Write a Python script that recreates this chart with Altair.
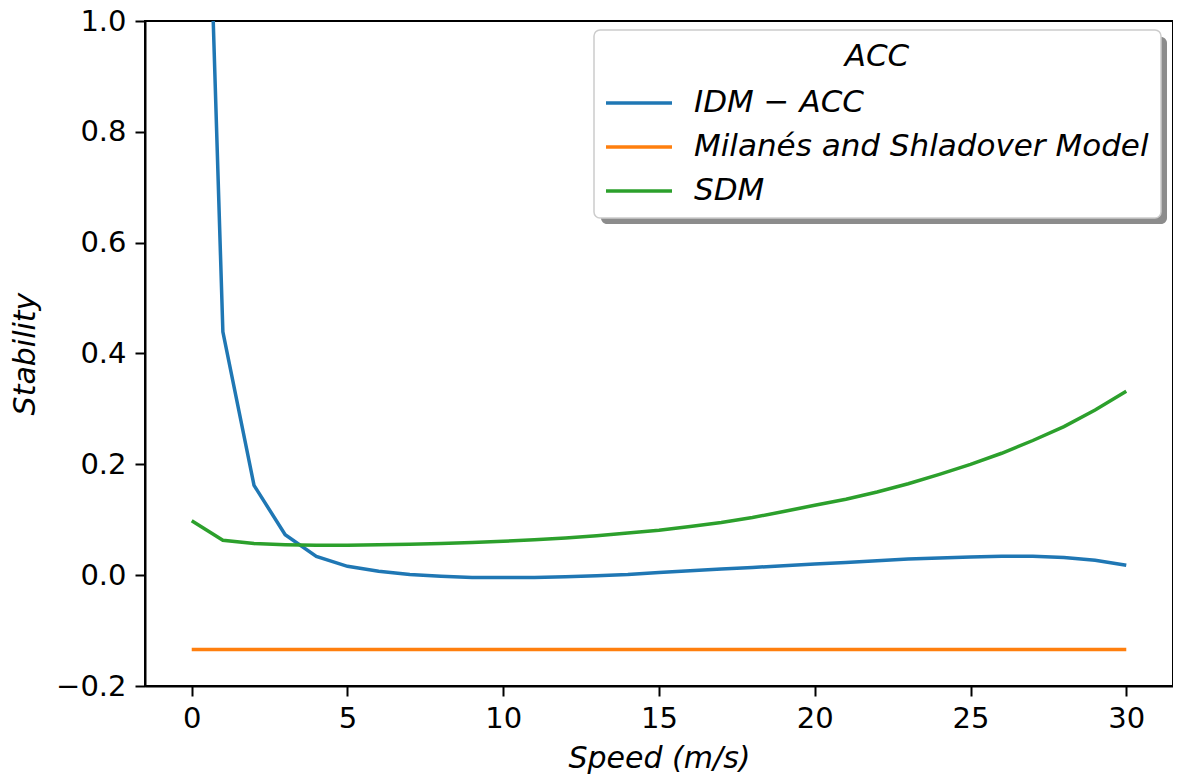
import altair as alt
import pandas as pd

speed = list(range(0, 31))
idm_acc = [2.25, 0.439, 0.162, 0.073, 0.034, 0.016, 0.007, 0.001, -0.002, -0.004,
           -0.004, -0.004, -0.003, -0.001, 0.001, 0.005, 0.008, 0.011, 0.014, 0.017,
           0.020, 0.023, 0.026, 0.029, 0.031, 0.033, 0.034, 0.034, 0.032, 0.027, 0.018]
milanes = [-0.134] * 31
sdm = [0.098, 0.063, 0.057, 0.055, 0.054, 0.054, 0.055, 0.056, 0.057, 0.059,
       0.061, 0.064, 0.067, 0.071, 0.076, 0.081, 0.088, 0.095, 0.104, 0.115,
       0.126, 0.137, 0.150, 0.165, 0.182, 0.200, 0.220, 0.243, 0.268, 0.298, 0.332]
models = ["IDM − ACC", "Milanés and Shladover Model", "SDM"]
colors = ["#1f77b4", "#ff7f0e", "#2ca02c"]
x_ticks = [0, 5, 10, 15, 20, 25, 30]
y_ticks = [-0.2, 0.0, 0.2, 0.4, 0.6, 0.8, 1.0]

rows = []
for name, vals in zip(models, [idm_acc, milanes, sdm]):
    for s, v in zip(speed, vals):
        rows.append({"speed": s, "value": v, "model": name})
df = pd.DataFrame(rows)

FONT = "DejaVu Sans"

lines = alt.Chart(df).mark_line(strokeWidth=3.5, clip=True).encode(
    x=alt.X("speed:Q",
            scale=alt.Scale(domain=[-1.5, 31.5], nice=False, zero=False),
            axis=alt.Axis(values=x_ticks, title="Speed (m/s)", format="d")),
    y=alt.Y("value:Q",
            scale=alt.Scale(domain=[-0.2, 1.0], nice=False, zero=False),
            axis=alt.Axis(values=y_ticks, title="Stability",
                          labelExpr="replace(format(datum.value, '.1f'), '-', '−')")),
    color=alt.Color("model:N",
                    scale=alt.Scale(domain=models, range=colors),
                    sort=models,
                    legend=alt.Legend(
                        title="ACC", orient="none", legendX=449, legendY=9,
                        symbolType="M-2.2,0H2.2", symbolSize=900, symbolStrokeWidth=3.5,
                        symbolOffset=16, labelOffset=38,
                        labelFontSize=31, labelFontStyle="italic", labelFont=FONT,
                        labelColor="black", labelLimit=800,
                        titleFontSize=31, titleFontStyle="italic", titleFont=FONT,
                        titleFontWeight="normal", titleColor="black",
                        titleAnchor="middle", titleAlign="center",
                        titlePadding=13, rowPadding=12,
                        padding=12, fillColor="white", strokeColor="#cccccc",
                        cornerRadius=6)),
)

shadow = alt.Chart(pd.DataFrame({"a": [0]})).mark_rect(
    color="#8c8c8c", cornerRadius=6
).encode(x=alt.value(456), x2=alt.value(1022), y=alt.value(16), y2=alt.value(203))

chart = alt.layer(shadow, lines).properties(
    width=1028, height=665,
    autosize=alt.AutoSizeParams(type="none"),
    padding={"left": 137, "top": 13, "right": 0, "bottom": 89},
).configure_view(
    stroke="black", strokeWidth=2
).configure_legend(
    strokeWidth=1.5
).configure_axis(
    grid=False, domainColor="black", domainWidth=2,
    tickColor="black", tickWidth=2, tickSize=10,
    labelFont=FONT, labelFontSize=29, labelColor="black", labelPadding=9,
    titleFont=FONT, titleFontSize=30, titleFontStyle="italic",
    titleFontWeight="normal", titleColor="black",
).configure_axisY(titlePadding=15).configure_axisX(titlePadding=10, labelPadding=8)

chart.save("out.html", embed_options={"renderer": "svg", "actions": False})
